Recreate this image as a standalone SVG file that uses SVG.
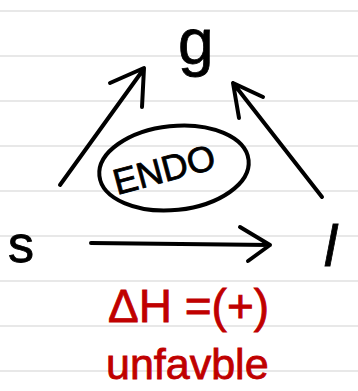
<svg xmlns="http://www.w3.org/2000/svg" width="358" height="391" viewBox="0 0 358 391">
<style>
.rule{stroke:#e8e8e8;stroke-width:2}
.ink{fill:none;stroke:#000;stroke-width:4;stroke-linecap:round;stroke-linejoin:round}
.t{font-family:"Liberation Sans",Arial,sans-serif;fill:#000;stroke:#000;stroke-width:0.8}
.red{font-family:"Liberation Sans",Arial,sans-serif;fill:#c00000;stroke:#c00000;stroke-width:0.8}
</style>
<rect width="358" height="391" fill="#fff"/>
<g id="paper">
<line class="rule" x1="0" y1="11" x2="358" y2="11"/>
<line class="rule" x1="0" y1="56" x2="358" y2="56"/>
<line class="rule" x1="0" y1="101" x2="358" y2="101"/>
<line class="rule" x1="0" y1="146" x2="358" y2="146"/>
<line class="rule" x1="0" y1="191" x2="358" y2="191"/>
<line class="rule" x1="0" y1="236" x2="358" y2="236"/>
<line class="rule" x1="0" y1="281" x2="358" y2="281"/>
<line class="rule" x1="0" y1="326" x2="358" y2="326"/>
<line class="rule" x1="0" y1="371" x2="358" y2="371"/>
</g>
<g id="connectors">
<path class="ink" d="M60,185 L143,70 M110,83 L144,68 L142,107"/>
<path class="ink" d="M322,197 L233,83 M263,97 L233,83 L239,118"/>
<path class="ink" d="M91,243 L270,245 M240,227 L270,245 L248,261"/>
</g>
<g id="node-g"><text class="t" x="178" y="64" font-size="64">g</text></g>
<g id="node-s"><text class="t" x="8" y="262" font-size="52">s</text></g>
<g id="node-l"><text class="t" x="324" y="266" font-size="58" font-style="italic">l</text></g>
<g id="node-endo">
<ellipse class="ink" cx="174" cy="168" rx="75" ry="42" transform="rotate(-6 174 168)"/>
<text class="t" x="0" y="0" font-size="36" transform="translate(117,195) rotate(-15)">ENDO</text>
</g>
<g id="note">
<text class="red" x="108" y="322" font-size="46">ΔH =(+)</text>
<text class="red" x="106" y="379" font-size="43">unfavble</text>
</g>
</svg>
